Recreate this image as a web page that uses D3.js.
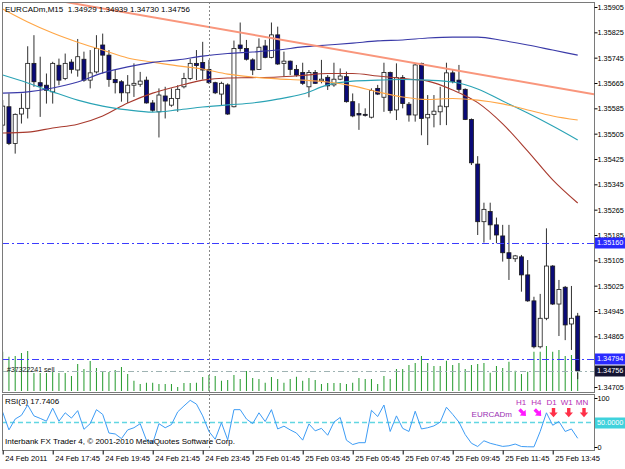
<!DOCTYPE html>
<html>
<head>
<meta charset="utf-8">
<script src="https://cdn.jsdelivr.net/npm/d3@7"></script>
<style>
  body { margin: 0; background: #fff; }
  svg { display: block; font-family: "Liberation Sans", Arial, sans-serif; }
</style>
</head>
<body>
<svg id="chart" width="625" height="469"></svg>
<script>
// EURCADm M15, one entry per bar (24 Feb 15:45 .. 25 Feb 14:45)
const symbol = "EURCADm";
const period = "M15";

const opens = [1.35532,1.35590,1.35474,1.35567,1.35585,1.35727,1.35666,1.35658,1.35637,1.35721,
  1.35679,1.35731,1.35706,1.35740,1.35674,1.35700,1.35785,1.35753,1.35676,1.35669,
  1.35634,1.35658,1.35661,1.35674,1.35602,1.35574,1.35624,1.35595,1.35616,1.35653,
  1.35679,1.35727,1.35730,1.35708,1.35666,1.35630,1.35659,1.35590,1.35785,1.35774,
  1.35738,1.35708,1.35782,1.35746,1.35817,1.35727,1.35734,1.35708,1.35698,1.35653,
  1.35698,1.35672,1.35683,1.35659,1.35677,1.35685,1.35606,1.35569,1.35566,1.35557,
  1.35648,1.35620,1.35698,1.35580,1.35682,1.35598,1.35564,1.35727,1.35555,1.35566,
  1.35574,1.35590,1.35697,1.35674,1.35645,1.35550,1.35409,1.35227,1.35259,1.35217,
  1.35182,1.35129,1.35110,1.35116,1.35059,1.34977,1.34832,1.34922,1.35087,1.34967,
  1.35020,1.34904,1.34929];
const highs = [1.35611,1.35632,1.35569,1.35632,1.35781,1.35816,1.35748,1.35695,1.35732,1.35742,
  1.35758,1.35740,1.35804,1.35764,1.35769,1.35816,1.35821,1.35769,1.35706,1.35674,
  1.35690,1.35727,1.35700,1.35685,1.35611,1.35648,1.35653,1.35648,1.35658,1.35697,
  1.35742,1.35769,1.35795,1.35738,1.35669,1.35669,1.35664,1.35799,1.35856,1.35801,
  1.35743,1.35806,1.35801,1.35856,1.35843,1.35764,1.35736,1.35722,1.35729,1.35706,
  1.35706,1.35738,1.35690,1.35729,1.35711,1.35701,1.35632,1.35601,1.35585,1.35648,
  1.35659,1.35729,1.35701,1.35727,1.35690,1.35605,1.35727,1.35729,1.35627,1.35627,
  1.35653,1.35729,1.35706,1.35722,1.35648,1.35553,1.35434,1.35287,1.35287,1.35240,
  1.35217,1.35217,1.35122,1.35122,1.35106,1.34990,1.34999,1.35206,1.35090,1.35043,
  1.35024,1.35024,1.34939];
const lows = [1.35516,1.35469,1.35442,1.35537,1.35553,1.35653,1.35558,1.35600,1.35600,1.35658,
  1.35674,1.35695,1.35685,1.35669,1.35648,1.35695,1.35695,1.35653,1.35632,1.35606,
  1.35602,1.35621,1.35653,1.35600,1.35574,1.35493,1.35553,1.35590,1.35574,1.35648,
  1.35674,1.35674,1.35676,1.35662,1.35630,1.35595,1.35564,1.35588,1.35764,1.35736,
  1.35690,1.35706,1.35743,1.35743,1.35722,1.35685,1.35690,1.35685,1.35659,1.35620,
  1.35662,1.35664,1.35643,1.35653,1.35674,1.35603,1.35557,1.35517,1.35559,1.35553,
  1.35627,1.35574,1.35569,1.35548,1.35585,1.35543,1.35543,1.35500,1.35469,1.35525,
  1.35532,1.35532,1.35664,1.35637,1.35548,1.35406,1.35185,1.35161,1.35170,1.35159,
  1.35101,1.35043,1.35100,1.35006,1.34974,1.34827,1.34827,1.34916,1.34964,1.34866,
  1.34853,1.34822,1.34730];
const closes = [1.35592,1.35474,1.35566,1.35585,1.35727,1.35669,1.35655,1.35642,1.35727,1.35674,
  1.35727,1.35708,1.35748,1.35674,1.35697,1.35774,1.35753,1.35676,1.35666,1.35634,
  1.35658,1.35664,1.35671,1.35602,1.35579,1.35627,1.35608,1.35616,1.35645,1.35679,
  1.35727,1.35720,1.35706,1.35666,1.35634,1.35664,1.35567,1.35774,1.35774,1.35740,
  1.35706,1.35778,1.35746,1.35817,1.35725,1.35734,1.35708,1.35690,1.35664,1.35698,
  1.35664,1.35677,1.35656,1.35677,1.35687,1.35606,1.35561,1.35564,1.35563,1.35641,
  1.35630,1.35698,1.35578,1.35682,1.35600,1.35564,1.35722,1.35553,1.35566,1.35576,
  1.35592,1.35697,1.35669,1.35645,1.35550,1.35413,1.35227,1.35266,1.35217,1.35185,
  1.35129,1.35111,1.35119,1.35059,1.34977,1.34832,1.34922,1.35087,1.34967,1.35013,
  1.34901,1.34922,1.34756];
const volumes = [157,137,140,152,160,72,72,72,76,72,
  72,60,108,88,120,92,80,76,84,96,
  68,41,28,33,33,28,28,28,16,32,
  32,33,56,64,60,41,44,64,48,80,
  52,48,33,56,48,33,48,57,41,52,
  44,28,32,32,32,28,33,52,48,48,
  28,60,48,88,88,104,112,140,112,100,
  100,121,104,112,88,104,108,112,73,100,
  92,117,81,68,77,157,157,180,157,164,
  140,144,72];
const rsiValues = [71.1,34.9,57.1,64.7,85.7,63.5,58.4,52.7,79.3,52.7,
  69.8,59.0,74.2,36.1,47.6,76.2,66.6,28.5,26.6,17.1,
  34.9,39.3,47.6,13.9,7.6,47.6,39.3,45.7,71.7,83.8,
  95.2,87.6,63.5,31.7,15.8,49.5,14.6,76.2,76.2,57.1,
  47.6,69.8,52.0,76.2,36.8,42.5,34.9,28.5,14.0,47.0,
  33.0,38.0,24.0,50.8,60.3,13.9,5.0,8.8,8.8,74.9,
  62.2,85.7,31.7,63.5,38.0,31.7,73.0,36.8,39.3,43.1,
  50.8,81.2,66.6,50.8,25.4,7.6,1.0,12.7,7.6,4.4,
  1.2,2.5,6.0,1.0,0.5,0.3,31.7,69.8,44.4,52.0,
  31.7,36.8,17.7406];

// moving averages, read every 4th bar
const maBars = [0,4,8,12,16,20,24,28,32,36,40,44,48,52,56,60,64,68,72,76,80,84,88,92];
const maBlue = [1.35633,1.35637,1.35649,1.35668,1.35697,1.35716,1.35730,1.35738,1.35750,1.35758,1.35763,1.35769,
  1.35779,1.35785,1.35791,1.35798,1.35801,1.35807,1.35810,1.35810,1.35799,1.35785,1.35769,1.35753];
const maOrange = [1.35899,1.35858,1.35823,1.35794,1.35769,1.35744,1.35731,1.35719,1.35709,1.35693,1.35684,1.35678,
  1.35674,1.35668,1.35656,1.35637,1.35621,1.35613,1.35616,1.35611,1.35599,1.35580,1.35561,1.35548];
const maTeal = [1.35690,1.35665,1.35637,1.35611,1.35592,1.35580,1.35573,1.35580,1.35589,1.35596,1.35602,1.35614,
  1.35630,1.35659,1.35671,1.35674,1.35676,1.35674,1.35668,1.35646,1.35608,1.35570,1.35529,1.35485];
const maBrown = [1.35507,1.35510,1.35523,1.35535,1.35561,1.35602,1.35633,1.35655,1.35674,1.35681,1.35682,1.35684,
  1.35689,1.35695,1.35695,1.35687,1.35679,1.35671,1.35643,1.35603,1.35536,1.35450,1.35359,1.35286];

// trend line anchors
const trendBars = [10, 90];
const trendPrices = [1.35921, 1.35645];

// 1.34785 sits under the order box, so it is not listed
const priceTicks = [1.35905,1.35825,1.35745,1.35665,1.35585,1.35505,1.35425,1.35345,
  1.35265,1.35185,1.35105,1.35025,1.34945,1.34865,1.34705];
const timeLabelBars = [0,8,16,24,32,40,48,56,64,72,80,88];
const timeLabels = ["24 Feb 2011","24 Feb 17:45","24 Feb 19:45","24 Feb 21:45","24 Feb 23:45",
  "25 Feb 01:45","25 Feb 03:45","25 Feb 05:45","25 Feb 07:45","25 Feb 09:45","25 Feb 11:45","25 Feb 13:45"];
const levelPrices = [1.35160, 1.34794];
const bidPrice = 1.34756;
const separatorBar = 33;
const orderText = "#37322241 sell";
const tfLabels = ["H1","H4","D1","W1","MN"];
const tfDirs = ["downright","downright","down","down","down"];

const left = 2, right = 594, mainTop = 2, mainBottom = 392, rsiTop = 394, rsiBottom = 450;
const fontSize = 8;
const axisFont = 7.3;

const svg = d3.select("#chart");

const x = d3.scaleLinear().domain([0, 92]).range([2.7, 577.7]);
const y = d3.scaleLinear().domain([1.35905, 1.34705]).range([7, 387]);
const yVol = d3.scaleLinear().domain([0, 200]).range([391, 341]);
const yRsi = d3.scaleLinear().domain([0, 100]).range([447, 398]);

const defs = svg.append("defs");
defs.append("clipPath").attr("id", "clipMain").append("rect")
  .attr("x", left).attr("y", mainTop).attr("width", right - left).attr("height", mainBottom - mainTop);
defs.append("clipPath").attr("id", "clipRsi").append("rect")
  .attr("x", left).attr("y", rsiTop).attr("width", right - left).attr("height", rsiBottom - rsiTop);

const main = svg.append("g").attr("clip-path", "url(#clipMain)");

const bars = opens.map((o, i) => ({i, o, h: highs[i], l: lows[i], c: closes[i], v: volumes[i]}));

// volumes
main.selectAll("line.vol")
  .data(bars)
  .enter()
  .append("line")
  .attr("class", "vol")
  .attr("x1", d => x(d.i)).attr("x2", d => x(d.i))
  .attr("y1", yVol(0)).attr("y2", d => yVol(d.v))
  .attr("stroke", "#22992a")
  .attr("stroke-width", 1);

// day separator
svg.append("line")
  .attr("x1", Math.round(x(separatorBar)) + 0.5).attr("x2", Math.round(x(separatorBar)) + 0.5)
  .attr("y1", mainTop).attr("y2", rsiBottom)
  .attr("stroke", "#888").attr("stroke-dasharray", "2,2");

// candles
const candle = main.selectAll("g.candle")
  .data(bars)
  .enter()
  .append("g")
  .attr("class", "candle");

candle.append("line")
  .attr("x1", d => x(d.i)).attr("x2", d => x(d.i))
  .attr("y1", d => y(d.h)).attr("y2", d => y(d.l))
  .attr("stroke", "#1a1a1a")
  .attr("stroke-width", 0.9);

candle.append("rect")
  .attr("x", d => x(d.i) - 2)
  .attr("y", d => y(Math.max(d.o, d.c)))
  .attr("width", 4)
  .attr("height", d => Math.max(1, Math.abs(y(d.o) - y(d.c))))
  .attr("fill", d => d.c >= d.o ? "#fff" : "#0a0a78")
  .attr("stroke", "#1a1a1a")
  .attr("stroke-width", 0.8);

// moving averages
const maLine = d3.line()
  .x((d, k) => x(maBars[k]))
  .y(d => y(d))
  .curve(d3.curveMonotoneX);

[[maBrown, "#a83a2e"], [maTeal, "#2aa3b5"], [maOrange, "#ffa646"], [maBlue, "#3a3aa8"]].forEach(([vals, col]) => {
  main.append("path")
    .attr("d", maLine(vals))
    .attr("fill", "none")
    .attr("stroke", col)
    .attr("stroke-width", 1.1);
});

// trend line (ray to the right edge)
const slope = (y(trendPrices[1]) - y(trendPrices[0])) / (x(trendBars[1]) - x(trendBars[0]));
main.append("line")
  .attr("x1", left).attr("y1", y(trendPrices[0]) + slope * (left - x(trendBars[0])))
  .attr("x2", right).attr("y2", y(trendPrices[0]) + slope * (right - x(trendBars[0])))
  .attr("stroke", "#f9967c")
  .attr("stroke-width", 2);

// horizontal levels
levelPrices.forEach(p => {
  main.append("line")
    .attr("x1", left).attr("x2", right)
    .attr("y1", Math.round(y(p)) + 0.5).attr("y2", Math.round(y(p)) + 0.5)
    .attr("stroke", "#3c3cff").attr("stroke-width", 1.2)
    .attr("stroke-dasharray", "7,3,2,3");
});
main.append("line")
  .attr("x1", left).attr("x2", right)
  .attr("y1", Math.round(y(bidPrice)) + 0.5).attr("y2", Math.round(y(bidPrice)) + 0.5)
  .attr("stroke", "#9fb3b3").attr("stroke-dasharray", "6,3,2,3");

main.append("text")
  .attr("x", 7).attr("y", y(bidPrice) + 1)
  .attr("font-size", 7).attr("fill", "#222")
  .text(orderText);

// header
svg.append("text")
  .attr("x", 5).attr("y", 12)
  .attr("font-size", fontSize).attr("fill", "#000")
  .attr("xml:space", "preserve")
  .text(`${symbol},${period}  ${[opens, highs, lows, closes].map(a => a[a.length - 1].toFixed(5)).join(" ")}`);

// RSI
const rsi = svg.append("g").attr("clip-path", "url(#clipRsi)");
rsi.append("line")
  .attr("x1", left).attr("x2", right)
  .attr("y1", yRsi(50)).attr("y2", yRsi(50))
  .attr("stroke", "#62d6e2").attr("stroke-width", 1.7).attr("stroke-dasharray", "5,3");
rsi.append("path")
  .attr("d", d3.line().x((d, i) => x(i)).y(d => yRsi(d))(rsiValues))
  .attr("fill", "none")
  .attr("stroke", "#3d9cf5")
  .attr("stroke-width", 1);

svg.append("text")
  .attr("x", 5).attr("y", 404)
  .attr("font-size", fontSize)
  .text(`RSI(3) ${rsiValues[rsiValues.length - 1].toFixed(4)}`);

svg.append("text")
  .attr("x", 5).attr("y", 443.5)
  .attr("font-size", fontSize)
  .text("Interbank FX Trader 4, \u00a9 2001-2010 MetaQuotes Software Corp.");

// timeframe signals
const tfX = d3.scalePoint().domain(tfLabels).range([521, 582]);
svg.selectAll("text.tf")
  .data(tfLabels)
  .enter()
  .append("text")
  .attr("class", "tf")
  .attr("x", d => tfX(d)).attr("y", 405)
  .attr("text-anchor", "middle")
  .attr("font-size", fontSize).attr("fill", "#b52cb5")
  .text(d => d);
svg.append("text")
  .attr("x", 512).attr("y", 416.5)
  .attr("text-anchor", "end")
  .attr("font-size", fontSize).attr("fill", "#9b30b3")
  .text(symbol);

const arrowDown = "M-1.7,-5 L1.7,-5 L1.7,-0.5 L4.2,-0.5 L0,4.2 L-4.2,-0.5 L-1.7,-0.5 Z";
svg.selectAll("path.arrow")
  .data(tfLabels)
  .enter()
  .append("path")
  .attr("class", "arrow")
  .attr("d", arrowDown)
  .attr("transform", (d, i) => `translate(${tfX(d) + 2},${413}) rotate(${tfDirs[i] === "down" ? 0 : -45})`)
  .attr("fill", (d, i) => tfDirs[i] === "down" ? "#ff3048" : "#ff1aff");

// frames
svg.append("rect").attr("x", left + 0.5).attr("y", mainTop + 0.5)
  .attr("width", right - left).attr("height", mainBottom - mainTop)
  .attr("fill", "none").attr("stroke", "#7a7a7a");
svg.append("rect").attr("x", left + 0.5).attr("y", rsiTop + 0.5)
  .attr("width", right - left).attr("height", rsiBottom - rsiTop)
  .attr("fill", "none").attr("stroke", "#7a7a7a");

// price axis
const priceAxis = svg.append("g")
  .attr("transform", `translate(${right + 0.5},0)`)
  .call(d3.axisRight(y).tickValues(priceTicks).tickFormat(d3.format(".5f")).tickSize(3).tickPadding(0))
  .attr("font-size", axisFont).attr("font-family", null);
priceAxis.select(".domain").remove();

const rsiAxis = svg.append("g")
  .attr("transform", `translate(${right + 0.5},0)`)
  .call(d3.axisRight(yRsi).tickValues([0, 100]).tickFormat(d3.format("d")).tickSize(3).tickPadding(0))
  .attr("font-size", axisFont).attr("font-family", null);
rsiAxis.select(".domain").remove();

// price boxes on the axis
const boxes = [
  {v: levelPrices[0], s: y, fill: "#2a2aff", label: levelPrices[0].toFixed(5)},
  {v: levelPrices[1], s: y, fill: "#2a2aff", label: levelPrices[1].toFixed(5)},
  {v: bidPrice, s: y, fill: "#141432", label: bidPrice.toFixed(5)},
  {v: 50, s: yRsi, fill: "#3fd2dc", label: (50).toFixed(4)}
];
const box = svg.selectAll("g.box").data(boxes).enter().append("g").attr("class", "box");
box.append("rect")
  .attr("x", right + 1).attr("y", d => Math.round(d.s(d.v)) - 5.5)
  .attr("width", 625 - right).attr("height", 11)
  .attr("fill", d => d.fill);
box.append("text")
  .attr("x", right + 3).attr("y", d => d.s(d.v)).attr("dy", "0.35em")
  .attr("font-size", axisFont).attr("fill", "#fff")
  .text(d => d.label);

// time axis
const timeAxis = svg.append("g")
  .attr("transform", `translate(0,${rsiBottom + 0.5})`)
  .call(d3.axisBottom(x).tickValues(timeLabelBars).tickFormat((d, i) => timeLabels[i]).tickSize(4).tickPadding(1))
  .attr("font-size", 7.6).attr("font-family", null);
timeAxis.select(".domain").remove();
timeAxis.selectAll("text").attr("text-anchor", "start").attr("x", 2);
</script>
</body>
</html>
